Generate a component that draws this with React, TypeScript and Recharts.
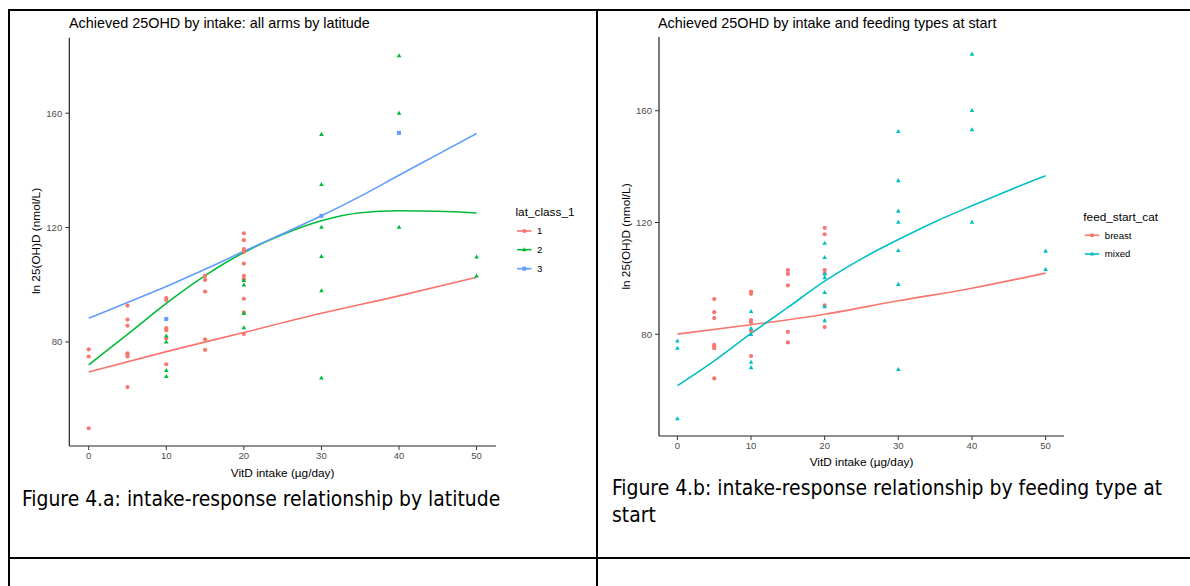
import React from 'react';
import { ComposedChart, Scatter, Line, XAxis, YAxis } from 'recharts';

// axis ticks shared by both panels
const X_TICKS = [0, 10, 20, 30, 40, 50];
const Y_TICKS = [80, 120, 160];

// Figure 4.a — points by latitude class: [intake, 25OHD]
const lat1Points: [number, number][] = [
  [0, 77.4], [0, 74.9], [0, 49.8],
  [5, 92.7], [5, 87.8], [5, 85.7], [5, 76.0], [5, 75.5], [5, 74.9], [5, 64.2],
  [10, 95.3], [10, 94.7], [10, 84.8], [10, 84.1], [10, 81.2], [10, 72.2],
  [15, 103.1], [15, 101.7], [15, 97.6], [15, 80.9], [15, 77.2],
  [20, 118.0], [20, 115.6], [20, 112.5], [20, 111.5], [20, 107.4], [20, 103.1], [20, 101.9], [20, 95.1], [20, 90.3], [20, 82.8],
];
const lat2Points: [number, number][] = [
  [10, 82.1], [10, 80.0], [10, 70.0], [10, 67.9],
  [20, 101.5], [20, 99.9], [20, 90.0], [20, 85.0],
  [30, 152.6], [30, 135.1], [30, 120.1], [30, 109.9], [30, 97.9], [30, 67.4],
  [40, 180.1], [40, 160.0], [40, 120.1],
  [50, 109.7], [50, 103.1],
];
const lat3Points: [number, number][] = [[10, 88.0], [30, 124.1], [40, 153.1]];

// fitted curves
const lat1Fit: [number, number][] = [[0, 69.5], [10, 76.6], [20, 83.3], [30, 90.0], [40, 96.1], [50, 102.6]];
const lat2Fit: [number, number][] = [
  [0, 72.0], [5, 82.6], [10, 93.5], [15, 103.2], [20, 111.3], [25, 117.6],
  [30, 122.4], [35, 125.2], [40, 125.9], [45, 125.7], [50, 125.1],
];
const lat3Fit: [number, number][] = [
  [0, 88.3], [5, 93.8], [10, 99.4], [15, 105.4], [20, 111.7], [25, 117.8],
  [30, 124.1], [35, 130.9], [40, 138.3], [45, 145.6], [50, 152.9],
];

// Figure 4.b — points by feeding type at start
const breastPoints: [number, number][] = [
  [5, 92.6], [5, 87.9], [5, 85.8], [5, 76.2], [5, 75.6], [5, 75.0], [5, 64.2],
  [10, 95.3], [10, 94.5], [10, 85.1], [10, 84.3], [10, 81.2], [10, 72.2],
  [15, 103.0], [15, 101.6], [15, 97.5], [15, 80.9], [15, 77.1],
  [20, 118.1], [20, 115.8], [20, 103.0], [20, 101.8], [20, 90.4], [20, 82.6],
];
const mixedPoints: [number, number][] = [
  [0, 77.6], [0, 75.0], [0, 49.8],
  [10, 88.2], [10, 82.1], [10, 80.0], [10, 70.0], [10, 68.1],
  [20, 112.6], [20, 107.5], [20, 101.6], [20, 100.3], [20, 95.0], [20, 89.9], [20, 84.9],
  [30, 152.6], [30, 135.0], [30, 124.1], [30, 120.1], [30, 110.0], [30, 97.9], [30, 67.4],
  [40, 180.3], [40, 160.1], [40, 153.2], [40, 120.1],
  [50, 109.8], [50, 103.2],
];
const breastFit: [number, number][] = [[0, 80.1], [10, 83.4], [20, 87.2], [30, 92.0], [40, 96.5], [50, 101.9]];
const mixedFit: [number, number][] = [
  [0, 61.6], [5, 70.5], [10, 80.3], [15, 89.6], [20, 99.0], [25, 107.0],
  [30, 113.9], [35, 120.3], [40, 126.0], [45, 131.5], [50, 136.7],
];

const RED = '#F8766D';
const GREEN = '#00BA38';
const BLUE = '#619CFF';
const CYAN = '#00BFC4';

const CHART_FONT = '"Liberation Sans", Arial, sans-serif';
const CAPTION_FONT = '"DejaVu Sans Condensed", "DejaVu Sans", sans-serif';

type Kind = 'circle' | 'triangle' | 'square';

const toRows = (pts: [number, number][]) => pts.map(([x, y]) => ({ x, y }));

const mark = (kind: Kind, color: string, cx: number, cy: number, key?: string) => {
  if (kind === 'square') return <rect key={key} x={cx - 2} y={cy - 2} width={4} height={4} fill={color} />;
  if (kind === 'triangle')
    return <polygon key={key} points={`${cx},${cy - 2.5} ${cx - 2.3},${cy + 1.6} ${cx + 2.3},${cy + 1.6}`} fill={color} />;
  return <circle key={key} cx={cx} cy={cy} r={2.1} fill={color} />;
};

const shapeOf = (kind: Kind, color: string) => (p: any) => mark(kind, color, p.cx, p.cy);

interface Group {
  label: string;
  color: string;
  kind: Kind;
  points: [number, number][];
  fit: [number, number][];
}

const latGroups: Group[] = [
  { label: '1', color: RED, kind: 'circle', points: lat1Points, fit: lat1Fit },
  { label: '2', color: GREEN, kind: 'triangle', points: lat2Points, fit: lat2Fit },
  { label: '3', color: BLUE, kind: 'square', points: lat3Points, fit: lat3Fit },
];
const feedGroups: Group[] = [
  { label: 'breast', color: RED, kind: 'circle', points: breastPoints, fit: breastFit },
  { label: 'mixed', color: CYAN, kind: 'triangle', points: mixedPoints, fit: mixedFit },
];

const tickStyle = { fontSize: 9.6, fill: '#4D4D4D', fontFamily: CHART_FONT };

const Panel: React.FC<{
  groups: Group[];
  left: number;
  top: number;
  width: number;
  height: number;
  margin: { top: number; right: number; bottom: number; left: number };
}> = ({ groups, left, top, width, height, margin }) => (
  <div style={{ position: 'absolute', left, top }}>
    <ComposedChart width={width} height={height} margin={margin}>
      <XAxis
        type="number"
        dataKey="x"
        domain={[-2.5, 52.5]}
        ticks={X_TICKS}
        allowDataOverflow
        height={40}
        tick={tickStyle}
        tickSize={4}
        tickMargin={2}
        stroke="#222"
        axisLine={{ stroke: '#222', strokeWidth: 1.2 }}
        tickLine={{ stroke: '#333' }}
      />
      <YAxis
        type="number"
        dataKey="y"
        domain={[43.6, 186.4]}
        ticks={Y_TICKS}
        allowDataOverflow
        width={40}
        tick={tickStyle}
        tickSize={4}
        tickMargin={3}
        stroke="#222"
        axisLine={{ stroke: '#222', strokeWidth: 1.2 }}
        tickLine={{ stroke: '#333' }}
      />
      {groups.map((g) => (
        <Scatter
          key={'s' + g.label}
          data={toRows(g.points)}
          dataKey="y"
          shape={shapeOf(g.kind, g.color)}
          isAnimationActive={false}
        />
      ))}
      {groups.map((g) => (
        <Line
          key={'l' + g.label}
          data={toRows(g.fit)}
          dataKey="y"
          type="monotone"
          stroke={g.color}
          strokeWidth={1.6}
          dot={false}
          activeDot={false}
          isAnimationActive={false}
        />
      ))}
    </ComposedChart>
  </div>
);

const LegendBox: React.FC<{ x: number; titleY: number; itemYs: number[]; title: string; groups: Group[] }> = ({
  x,
  titleY,
  itemYs,
  title,
  groups,
}) => (
  <g fontFamily={CHART_FONT}>
    <text x={x} y={titleY} fontSize={11.8} fill="#000">
      {title}
    </text>
    {groups.map((g, i) => {
      const cy = itemYs[i];
      return (
        <g key={g.label}>
          <line x1={x + 1.5} x2={x + 16} y1={cy} y2={cy} stroke={g.color} strokeWidth={1.6} />
          {mark(g.kind, g.color, x + 8.8, cy)}
          <text x={x + 21.5} y={cy + 3.4} fontSize={9.6} fill="#000">
            {g.label}
          </text>
        </g>
      );
    })}
  </g>
);

const Rule: React.FC<{ x: number; y: number; w: number; h: number }> = ({ x, y, w, h }) => (
  <div style={{ position: 'absolute', left: x, top: y, width: w, height: h, background: '#000' }} />
);

export default function App() {
  return (
    <div
      style={{
        position: 'absolute',
        left: 0,
        top: 0,
        width: 1190,
        height: 586,
        background: '#fff',
        overflow: 'hidden',
      }}
    >
      {/* table rules */}
      <Rule x={8} y={9} w={1182} h={2} />
      <Rule x={8} y={9} w={2} h={577} />
      <Rule x={596} y={9} w={2} h={577} />
      <Rule x={8} y={557} w={1182} h={2} />

      <Panel
        groups={latGroups}
        left={10}
        top={30}
        width={580}
        height={460}
        margin={{ top: 7.7, right: 94, bottom: 4, left: 19.3 }}
      />
      <Panel
        groups={feedGroups}
        left={600}
        top={30}
        width={580}
        height={450}
        margin={{ top: 7, right: 116, bottom: 4, left: 19 }}
      />

      <svg
        width={1190}
        height={586}
        style={{ position: 'absolute', left: 0, top: 0, pointerEvents: 'none' }}
      >
        <g fontFamily={CHART_FONT} fill="#000">
          <text x={69} y={27.5} fontSize={14.4}>
            Achieved 25OHD by intake: all arms by latitude
          </text>
          <text x={658} y={27.5} fontSize={14.4}>
            Achieved 25OHD by intake and feeding types at start
          </text>
          <text x={282.6} y={476.7} fontSize={11.8} textAnchor="middle">
            VitD intake (µg/day)
          </text>
          <text x={861.5} y={466} fontSize={11.8} textAnchor="middle">
            VitD intake (µg/day)
          </text>
          <text x={39.5} y={241} fontSize={11.8} textAnchor="middle" transform="rotate(-90 39.5 241)">
            ln 25(OH)D (nmol/L)
          </text>
          <text x={629.5} y={236.5} fontSize={11.8} textAnchor="middle" transform="rotate(-90 629.5 236.5)">
            ln 25(OH)D (nmol/L)
          </text>
        </g>

        <LegendBox x={515.5} titleY={216.3} itemYs={[231, 249.7, 268.7]} title="lat_class_1" groups={latGroups} />
        <LegendBox x={1083.3} titleY={221.3} itemYs={[235.3, 254]} title="feed_start_cat" groups={feedGroups} />

        <g fontFamily={CAPTION_FONT} fontSize={20.9} fill="#000">
          <text x={22} y={505.5}>Figure 4.a: intake-response relationship by latitude</text>
          <text x={612} y={495}>Figure 4.b: intake-response relationship by feeding type at</text>
          <text x={612} y={521.7}>start</text>
        </g>
      </svg>
    </div>
  );
}
